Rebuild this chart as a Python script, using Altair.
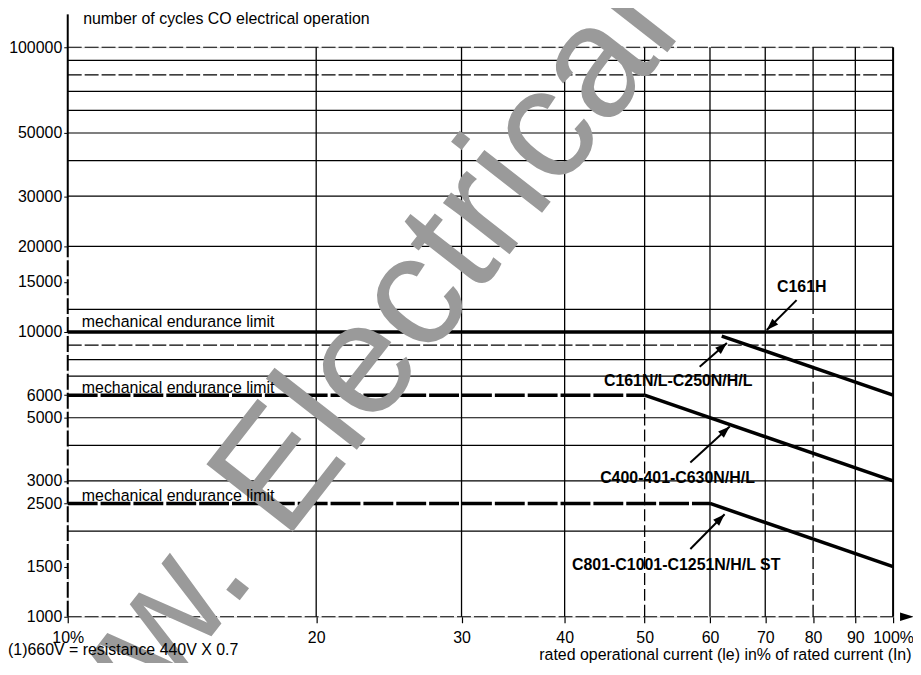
import altair as alt
import pandas as pd

# ---------------- data ----------------
x_ticks = [10, 20, 30, 40, 50, 60, 70, 80, 90, 100]
y_ticks = [1000, 1500, 2500, 3000, 5000, 6000, 10000, 15000, 20000, 30000, 50000, 100000]

grid_h_solid = [90000, 70000, 60000, 50000, 40000, 30000, 20000, 12000,
                8000, 7000, 5000, 4000, 3000, 2000]
grid_h_dashed = [100000, 80000, 9000, 1000]

v_solid_x = [20, 30, 40, 50, 60, 70, 80, 90]
v_solid_from = [1000, 1000, 1000, 6000, 1000, 1000, 12000, 1000]
v_solid_to = [100000] * 8
v_dashed_x = [50, 80]
v_dashed_from = [1000, 1000]
v_dashed_to = [6000, 12000]

# mechanical endurance limits
limit_solid_x = [10, 100]
limit_solid_y = [10000, 10000]
limit_dashed_series = ["6000", "6000", "2500", "2500"]
limit_dashed_x = [10, 50, 10, 60]
limit_dashed_y = [6000, 6000, 2500, 2500]

# electrical endurance curves
curve_series = ["C161N/L-C250N/H/L", "C161N/L-C250N/H/L",
                "C400-401-C630N/H/L", "C400-401-C630N/H/L",
                "C801-C1001-C1251N/H/L ST", "C801-C1001-C1251N/H/L ST"]
curve_x = [62, 100, 50, 100, 60, 100]
curve_y = [9680, 6000, 6000, 3000, 2500, 1500]

# labels
label_text = ["C161H", "C161N/L-C250N/H/L", "C400-401-C630N/H/L", "C801-C1001-C1251N/H/L ST"]
label_x = [77.5, 54.9, 54.8, 54.6]
label_y = [14360, 6742, 3074, 1520]

arrow_tail_x = [76.4, 58.3, 56.8, 56.8]
arrow_tail_y = [12940, 7550, 3484, 1729]
arrow_head_x = [70.3, 62.9, 63.4, 62.5]
arrow_head_y = [10160, 9152, 4657, 2291]
arrow_angle = [225, 48, 47, 45]

mech_text = ["mechanical endurance limit"] * 3
mech_x = [10.4, 10.4, 10.4]
mech_y = [10410, 6097, 2540]

FONT = "Liberation Sans"
xs = alt.Scale(type="log", domain=[10, 100], nice=False)
ys = alt.Scale(type="log", domain=[1000, 100000], nice=False)

W, H = 829, 572

AX = alt.Axis(
    values=x_ticks, format="d",
    labelExpr="datum.value == 10 || datum.value == 100 ? datum.label + '%' : datum.label",
    labelFont=FONT, labelFontSize=16, labelColor="black", labelFlush=False,
    labelOverlap=False, labelPadding=7, ticks=True, tickSize=6, tickColor="black",
    tickWidth=1.2, domain=False, grid=False,
    title="rated operational current (le) in% of rated current (In)",
    titleFont=FONT, titleFontSize=16, titleFontWeight="normal", titleColor="black",
    titleAlign="right", titleBaseline="middle", titleX=847, titleY=38)
AY = alt.Axis(
    values=y_ticks, format="d", labelFont=FONT, labelFontSize=16, labelColor="black",
    labelOverlap=False, labelPadding=2, ticks=True, tickSize=4, tickColor="black",
    domain=False, grid=False,
    title="number of cycles CO electrical operation",
    titleFont=FONT, titleFontSize=16, titleFontWeight="normal", titleColor="black",
    titleAngle=0, titleAlign="left", titleBaseline="middle", titleX=15, titleY=-29)


def X(f):
    return alt.X(f, type="quantitative", scale=xs, axis=AX)


def Y(f):
    return alt.Y(f, type="quantitative", scale=ys, axis=AY)


# ---------------- layers ----------------
hs_df = pd.DataFrame({"y": grid_h_solid, "xa": 10, "xb": 100})
hd_df = pd.DataFrame({"y": grid_h_dashed, "xa": 10, "xb": 100})

grid_h = alt.Chart(hs_df).mark_rule(color="black", strokeWidth=1.2).encode(
    x=X("xa"), x2="xb:Q", y=Y("y"))
grid_hd = alt.Chart(hd_df).mark_rule(color="black", strokeWidth=1.2, strokeDash=[14, 3]).encode(
    x=X("xa"), x2="xb:Q", y=Y("y"))

vs_df = pd.DataFrame({"x": v_solid_x, "ya": v_solid_from, "yb": v_solid_to})
vd_df = pd.DataFrame({"x": v_dashed_x, "ya": v_dashed_from, "yb": v_dashed_to})
grid_v = alt.Chart(vs_df).mark_rule(color="black", strokeWidth=1.3).encode(
    x=X("x"), y=Y("ya"), y2="yb:Q")
grid_vd = alt.Chart(vd_df).mark_rule(color="black", strokeWidth=1.3, strokeDash=[12, 4]).encode(
    x=X("x"), y=Y("ya"), y2="yb:Q")

# left axis line and right border
axes_df = pd.DataFrame({"x": [10, 10, 100], "ya": [20000, 1000, 1000], "yb": [130500, 20000, 100000],
                        "kind": ["s", "d", "s"]})
left_solid = alt.Chart(axes_df[axes_df.kind == "s"]).mark_rule(color="black", strokeWidth=2).encode(
    x=X("x"), y=Y("ya"), y2="yb:Q")
left_dash = alt.Chart(axes_df[axes_df.kind == "d"]).mark_rule(color="black", strokeWidth=2,
                                                               strokeDash=[16, 3]).encode(
    x=X("x"), y=Y("ya"), y2="yb:Q")

# x axis arrow head
xarrow_df = pd.DataFrame({"x": [106], "y": [1000]})
xarrow = alt.Chart(xarrow_df).mark_point(
    shape="M0,0 L-0.3,1 L0.3,1 Z", filled=True, color="black", opacity=1, size=784, angle=90
).encode(x=X("x"), y=Y("y"))

# mechanical limits
ls_df = pd.DataFrame({"x": limit_solid_x, "y": limit_solid_y})
limit_solid = alt.Chart(ls_df).mark_line(color="black", strokeWidth=3.5).encode(x=X("x"), y=Y("y"))
ld_df = pd.DataFrame({"s": limit_dashed_series, "x": limit_dashed_x, "y": limit_dashed_y})
limit_dashed = alt.Chart(ld_df).mark_line(color="black", strokeWidth=3.5, strokeDash=[30, 3]).encode(
    x=X("x"), y=Y("y"), detail="s:N")

cv_df = pd.DataFrame({"s": curve_series, "x": curve_x, "y": curve_y})
curves = alt.Chart(cv_df).mark_line(color="black", strokeWidth=3.5).encode(
    x=X("x"), y=Y("y"), detail="s:N")

ar_df = pd.DataFrame({"tx": arrow_tail_x, "ty": arrow_tail_y, "hx": arrow_head_x,
                      "hy": arrow_head_y, "a": arrow_angle})
shafts = alt.Chart(ar_df).mark_rule(color="black", strokeWidth=2).encode(
    x=X("tx"), y=Y("ty"), x2="hx:Q", y2="hy:Q")
heads = alt.Chart(ar_df).mark_point(shape="M0,0 L-0.35,1 L0.35,1 Z", filled=True, color="black",
                                    opacity=1, size=576).encode(
    x=X("hx"), y=Y("hy"), angle=alt.Angle("a:Q", scale=None))

wm1 = alt.Chart(pd.DataFrame({"t": ["www."]})).mark_text(
    font=FONT, fontSize=160, align="right", baseline="alphabetic", color="#9a9a9a", angle=308
).encode(x=alt.value(191), y=alt.value(532), text="t:N")
wm2 = alt.Chart(pd.DataFrame({"t": ["Electrical"]})).mark_text(
    font=FONT, fontSize=160, align="left", baseline="alphabetic", color="#9a9a9a", angle=308
).encode(x=alt.value(218), y=alt.value(497), text="t:N")

mech_df = pd.DataFrame({"t": mech_text, "x": mech_x, "y": mech_y})
mech = alt.Chart(mech_df).mark_text(font=FONT, fontSize=16, align="left", baseline="alphabetic",
                                     color="black").encode(x=X("x"), y=Y("y"), text="t:N")

lab_df = pd.DataFrame({"t": label_text, "x": label_x, "y": label_y})
labels = alt.Chart(lab_df).mark_text(font=FONT, fontSize=16, fontWeight="bold", align="center",
                                     baseline="middle", color="black").encode(
    x=X("x"), y=Y("y"), text="t:N")

one = pd.DataFrame({"t": ["(1)660V = resistance 440V X 0.7"]})
footnote = alt.Chart(one).mark_text(font=FONT, fontSize=16, align="left", baseline="middle",
                                    color="black").encode(
    x=alt.value(-60), y=alt.value(605), text="t:N")

chart = alt.layer(
    grid_h, grid_hd, grid_v, grid_vd, left_solid, left_dash, xarrow,
    limit_solid, limit_dashed, curves, shafts, heads, wm1, wm2, mech, labels, footnote
).properties(
    width=W, height=H,
    autosize=alt.AutoSizeParams(type="none"),
    padding={"left": 60, "top": 38, "right": 20, "bottom": 45},
).configure_view(strokeWidth=0).configure(background="white")

chart.save("out.html", embed_options={"renderer": "svg", "actions": False})
